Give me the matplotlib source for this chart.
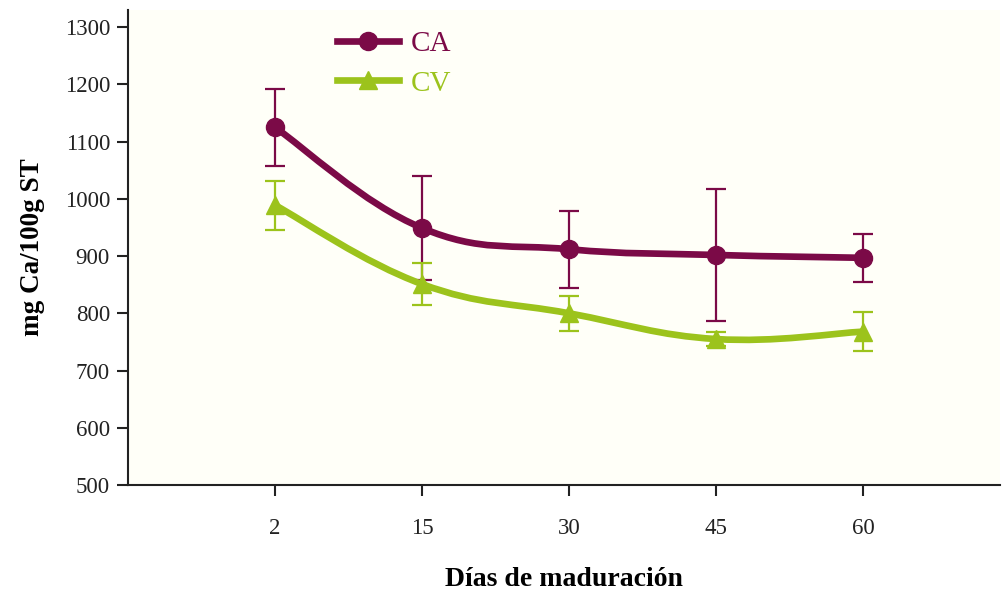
import numpy as np
import matplotlib
matplotlib.use("Agg")
import matplotlib.pyplot as plt
from matplotlib.path import Path
from matplotlib.patches import PathPatch
from matplotlib.lines import Line2D

plt.rcParams['font.family'] = ['Liberation Serif', 'DejaVu Serif']

# días de maduración
dias = ['2', '15', '30', '45', '60']

# mg Ca / 100 g ST
ca_media = [1125, 949, 912, 902, 897]
ca_error = [67, 91, 67, 115, 42]
cv_media = [989, 851, 800, 755, 768]
cv_error = [43, 37, 31, 12, 34]

COLOR_CA = '#7b0a47'
COLOR_CV = '#9cc31c'


def curva_suave(xs, ys):
    # Catmull-Rom convertido a segmentos Bezier cúbicos
    pts = np.column_stack([xs, ys]).astype(float)
    ext = np.vstack([pts[0], pts, pts[-1]])
    verts = [tuple(pts[0])]
    codes = [Path.MOVETO]
    for i in range(1, len(ext) - 2):
        p0, p1, p2, p3 = ext[i - 1], ext[i], ext[i + 1], ext[i + 2]
        c1 = p1 + (p2 - p0) / 5.0
        c2 = p2 - (p3 - p1) / 5.0
        verts += [tuple(c1), tuple(c2), tuple(p2)]
        codes += [Path.CURVE4] * 3
    return Path(verts, codes)


fig = plt.figure(figsize=(10.04, 5.95), dpi=100)
ax = fig.add_axes([0.1275, 0.185, 0.8685, 0.798])
ax.set_facecolor('#fffff8')

x = np.arange(len(dias))

for medias, errores, color, marker, ms in [
        (ca_media, ca_error, COLOR_CA, 'o', 13),
        (cv_media, cv_error, COLOR_CV, '^', 13)]:
    ax.errorbar(x, medias, yerr=errores, fmt='none', ecolor=color,
                elinewidth=1.6, capsize=7, capthick=1.6, zorder=2)
    ax.add_patch(PathPatch(curva_suave(x, medias), facecolor='none',
                           edgecolor=color, lw=4.8, capstyle='round',
                           zorder=3))
    ax.plot(x, medias, linestyle='none', marker=marker, ms=ms,
            color=color, zorder=4)

ax.set_xlim(-1.0, 4.93)
ax.set_ylim(500, 1330)
ax.set_xticks(x)
ax.set_xticklabels(dias)
ax.set_yticks(np.arange(500, 1301, 100))

for lado in ['top', 'right']:
    ax.spines[lado].set_visible(False)
for lado in ['left', 'bottom']:
    ax.spines[lado].set_linewidth(1.5)
    ax.spines[lado].set_color('#222222')

ax.tick_params(axis='both', direction='out', length=8, width=1.5,
               labelsize=16.5, colors='#222222')
ax.tick_params(axis='x', pad=16)
ax.tick_params(axis='y', pad=5)

ax.set_ylabel('mg Ca/100g ST', fontsize=19.5, fontweight='bold', labelpad=14)
ax.set_xlabel('Días de maduración', fontsize=20, fontweight='bold',
              labelpad=20)

handles = [
    Line2D([], [], color=COLOR_CA, lw=4.8, marker='o', ms=13),
    Line2D([], [], color=COLOR_CV, lw=4.8, marker='^', ms=13),
]
ax.legend(handles, ['CA', 'CV'], loc='upper left',
          bbox_to_anchor=(0.21, 1.012), frameon=False, fontsize=21,
          handlelength=2.1, handletextpad=0.4, labelspacing=0.45,
          labelcolor=[COLOR_CA, COLOR_CV])

fig.savefig('out.png', dpi=100, facecolor='white')
